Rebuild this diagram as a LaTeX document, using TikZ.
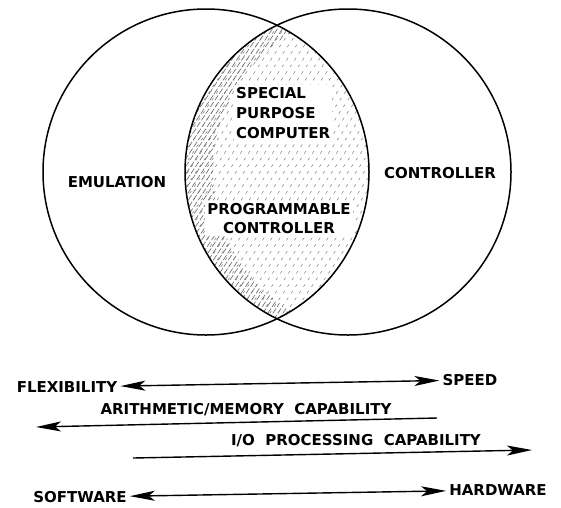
\documentclass[tikz,border=0pt]{standalone}
\usepackage{fontspec}
\setmainfont{DejaVu Sans}
\usepackage{tikz}
\usetikzlibrary{arrows.meta}
\tikzstyle{venn} = [line width=1.5pt]
\tikzstyle{hatch} = [line width=0.6pt, black!45, dash pattern=on 3pt off 5pt]
\tikzstyle{word} = [inner sep=3pt, font=\fontsize{15}{20}\selectfont\bfseries]
\tikzstyle{arrow} = [line width=1.4pt, -{Stealth[length=25pt, width=10pt, inset=6pt]}]
\tikzstyle{twoway} = [line width=1.4pt, {Stealth[length=25pt, width=10pt, inset=6pt]}-{Stealth[length=25pt, width=10pt, inset=6pt]}]

\begin{document}
\begin{tikzpicture}[x=1pt, y=-1pt]
	\useasboundingbox (0,0) rectangle (561,507);
	\begin{scope}
		\clip (206,172) circle (163);
		\clip (348,172) circle (163);
		\foreach \i in {-180,-172,...,380}
			\draw[hatch] (\i,340) -- ++(220,-330);
		\begin{scope}[even odd rule]
			\clip (376,172) circle (163) (0,0) rectangle (561,507);
			\foreach \i in {-180,-175,...,380}
				\draw[line width=0.6pt, black!60, dash pattern=on 6pt off 2pt] (\i,340) -- ++(220,-330);
		\end{scope}
	\end{scope}
	\draw[venn] (206,172) circle (163);
	\draw[venn] (348,172) circle (163);
	
	\node[word](emul) at (117,182){EMULATION};
	\node[word](ctrl) at (440,173){CONTROLLER};
	\node[word, fill=white, inner sep=2pt, anchor=west, align=left](spc) at (234,113){SPECIAL\\PURPOSE\\COMPUTER};
	\node[word, fill=white, inner sep=2pt, align=center, font=\fontsize{15}{19.5}\selectfont\bfseries](pctrl) at (279,218.5){PROGRAMMABLE\\CONTROLLER};
	
	\node[word](flex) at (67,387){FLEXIBILITY};
	\node[word](speed) at (470,380){SPEED};
	\node[word](arith) at (246,410){ARITHMETIC/MEMORY\ \ CAPABILITY};
	\node[word](io) at (356,441){I/O\ \ PROCESSING\ \ CAPABILITY};
	\node[word](soft) at (80,497){SOFTWARE};
	\node[word](hard) at (498,490){HARDWARE};
	\coordinate (arith_r) at (437,418);
	\coordinate (arith_l) at (36,427);
	\coordinate (io_l) at (133,458);
	\coordinate (io_r) at (532,450);
	
	\draw[twoway] (flex) -- (speed);
	\draw[arrow] (arith_r) -- (arith_l);
	\draw[arrow] (io_l) -- (io_r);
	\draw[twoway] (soft) -- (hard);
\end{tikzpicture}
\end{document}
